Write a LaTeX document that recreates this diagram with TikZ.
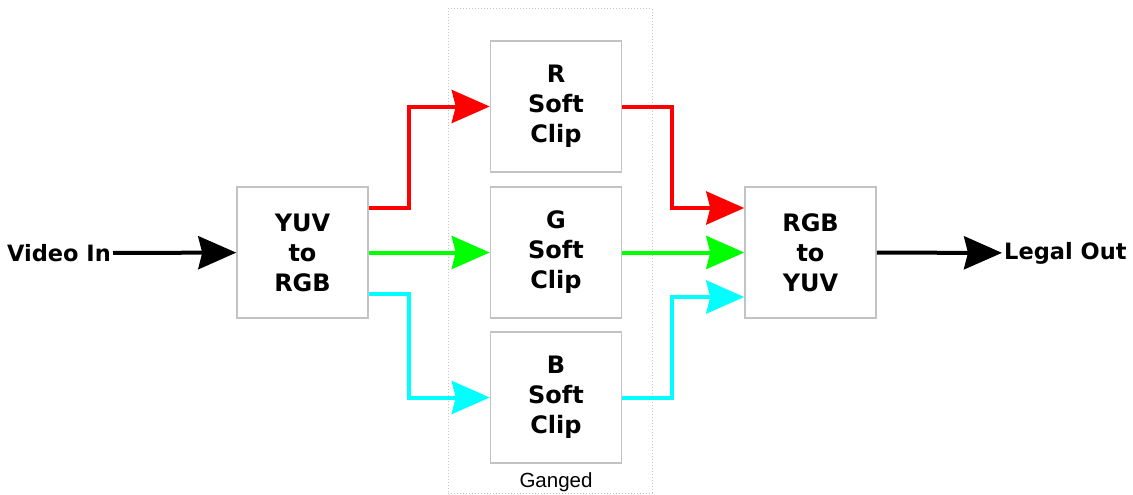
\documentclass[tikz,border=0pt]{standalone}
\usepackage{fontspec}
\setmainfont{DejaVu Sans}
\newfontfamily\gangfont{Liberation Sans}
\usepackage{tikz}
\usetikzlibrary{arrows.meta,calc}
\definecolor{boxgray}{RGB}{195,195,195}
\definecolor{sigred}{RGB}{255,0,0}
\definecolor{siggreen}{RGB}{0,255,0}
\definecolor{sigcyan}{RGB}{0,255,255}

\begin{document}
\begin{tikzpicture}[x=1pt,y=-1pt,
    block/.style={draw=boxgray,line width=1.5pt,fill=white,minimum width=131pt,minimum height=131pt,
        inner sep=0pt,align=center,font=\fontsize{24}{30}\selectfont\bfseries},
    lbl/.style={inner sep=2pt,font=\fontsize{22.5}{26}\selectfont\bfseries},
    sig/.style={line width=4pt,-{Stealth[length=38pt,width=33pt,inset=4pt]}}]
    \useasboundingbox (0,0) rectangle (1133,495);
    \node[draw=boxgray,dotted,line width=1pt,minimum width=204pt,minimum height=484pt,inner sep=0pt] (gang) at (550,251) {};
    \node[font=\fontsize{20.5}{22}\selectfont\gangfont] (ganglbl) at (556,482) {Ganged};
    \node[block] (yuv) at (302.5,252.5) {YUV\\to\\RGB};
    \node[block] (r) at (556,106.5) {R\\Soft\\Clip};
    \node[block] (g) at (556,252.5) {G\\Soft\\Clip};
    \node[block] (b) at (556,397.5) {B\\Soft\\Clip};
    \node[block] (rgb) at (810.5,252.5) {RGB\\to\\YUV};
    \node[lbl,anchor=east] (vin) at (113,253) {Video In};
    \node[lbl,anchor=west] (lout) at (1002,253) {Legal Out};
    \draw[sig,black] (vin) -- (yuv);
    \draw[sig,black] (rgb) -- (lout);
    \draw[sig,sigred] ([yshift=44.5pt]yuv.east) -- ++(40,0) |- (r.west);
    \draw[sig,siggreen] (yuv) -- (g);
    \draw[sig,sigcyan] ([yshift=-41.5pt]yuv.east) -- ++(40,0) |- (b.west);
    \draw[sig,sigred] (r.east) -- ++(50,0) |- ([yshift=44.5pt]rgb.west);
    \draw[sig,siggreen] (g) -- (rgb);
    \draw[sig,sigcyan] (b.east) -- ++(50,0) |- ([yshift=-44.5pt]rgb.west);
\end{tikzpicture}
\end{document}
